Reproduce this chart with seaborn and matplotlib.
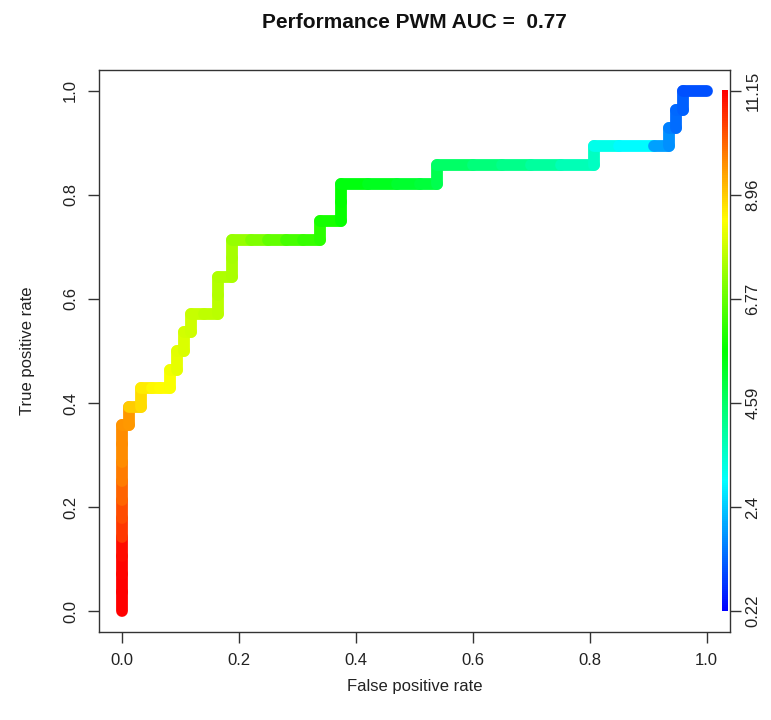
import numpy as np
import matplotlib
matplotlib.use("Agg")
import matplotlib.pyplot as plt
import seaborn as sns
from matplotlib.collections import LineCollection
from matplotlib.colors import ListedColormap, Normalize, hsv_to_rgb

# ROC points (fpr, tpr, cutoff)
fpr = [0.0, 0.0, 0.0, 0.0, 0.0, 0.0, 0.0, 0.0, 0.0, 0.0, 0.0,
       0.012, 0.012, 0.032, 0.032, 0.05, 0.065, 0.082, 0.082, 0.093, 0.093,
       0.105, 0.105, 0.117, 0.117, 0.14, 0.163, 0.163, 0.163, 0.187, 0.187,
       0.187, 0.22, 0.25, 0.28, 0.31, 0.338, 0.338, 0.374, 0.374, 0.374,
       0.42, 0.47, 0.51, 0.538, 0.538, 0.6, 0.65, 0.7, 0.75, 0.808,
       0.808, 0.85, 0.91, 0.935, 0.935, 0.948, 0.948, 0.96, 0.96, 1.0]
tpr = [0.0, 0.036, 0.071, 0.107, 0.143, 0.179, 0.214, 0.25, 0.286, 0.321, 0.357,
       0.357, 0.393, 0.393, 0.429, 0.429, 0.429, 0.429, 0.464, 0.464, 0.5,
       0.5, 0.536, 0.536, 0.571, 0.571, 0.571, 0.607, 0.643, 0.643, 0.679,
       0.714, 0.714, 0.714, 0.714, 0.714, 0.714, 0.75, 0.75, 0.786, 0.821,
       0.821, 0.821, 0.821, 0.821, 0.857, 0.857, 0.857, 0.857, 0.857, 0.857,
       0.893, 0.893, 0.893, 0.893, 0.929, 0.929, 0.964, 0.964, 1.0, 1.0]
cutoff = [11.15, 11.15, 11.12, 11.08, 11.02, 10.55, 10.30, 10.05, 9.80, 9.65, 9.62,
          9.55, 9.50, 8.95, 8.80, 8.62, 8.50, 8.42, 8.35, 8.25, 8.14,
          8.08, 8.01, 7.94, 7.87, 7.80, 7.73, 7.68, 7.60, 7.53, 7.50,
          7.46, 7.30, 7.05, 6.75, 6.45, 6.25, 6.15, 5.90, 5.75, 5.685,
          5.55, 5.35, 5.20, 5.05, 4.85, 4.60, 4.40, 4.20, 4.00, 3.75,
          3.60, 3.20, 2.95, 1.95, 1.77, 1.60, 1.40, 1.35, 1.27, 1.09]

cbar_labels = ["0.22", "2.4", "4.59", "6.77", "8.96", "11.15"]
auc_value = 0.77
cut_min, cut_max = 0.22, 11.15

sns.set_theme(style="white")
plt.rcParams["font.family"] = ["Liberation Sans", "DejaVu Sans"]

# R's rainbow(start=0, end=4/6): low cutoff blue, high cutoff red
hues = np.linspace(4 / 6, 0, 256)
rainbow = ListedColormap(hsv_to_rgb(np.column_stack([hues, np.ones(256), np.ones(256)])))
norm = Normalize(cut_min, cut_max)

fig = plt.figure(figsize=(7.71, 7.2), dpi=100)
ax = fig.add_axes([0.1284, 0.1222, 0.9468 - 0.1284, 0.9028 - 0.1222])

pts = np.column_stack([fpr, tpr])
segs = np.stack([pts[:-1], pts[1:]], axis=1)
lc = LineCollection(segs, colors=rainbow(norm(np.array(cutoff[1:]))),
                    linewidths=8.5, capstyle="round", joinstyle="round")
ax.add_collection(lc)

# colour bar drawn inside the plot region, on the right edge
grad = np.linspace(0, 1, 256)[::-1].reshape(-1, 1)
ax.imshow(grad, cmap=rainbow, aspect="auto", extent=[1.026, 1.035, 0, 1],
          interpolation="nearest", zorder=3)

ax.set_xlim(-0.04, 1.04)
ax.set_ylim(-0.04, 1.04)
ticks = [0.0, 0.2, 0.4, 0.6, 0.8, 1.0]
ax.set_xticks(ticks, [f"{t:.1f}" for t in ticks])
ax.set_yticks(ticks, [f"{t:.1f}" for t in ticks])
for s in ax.spines.values():
    s.set_color("#333333")
    s.set_linewidth(1.0)
ax.tick_params(axis="both", which="both", direction="out", length=8, width=1,
               color="#333333", labelsize=12, labelcolor="#222222", pad=7,
               bottom=True, left=True)
plt.setp(ax.get_yticklabels(), rotation=90, va="center")

ax2 = ax.twinx()
ax2.set_ylim(-0.04, 1.04)
ax2.set_yticks(ticks, cbar_labels)
ax2.tick_params(axis="y", direction="out", length=8, width=1, color="#333333",
                labelsize=12, labelcolor="#222222", pad=3, right=True)
plt.setp(ax2.get_yticklabels(), rotation=90, va="center")
for s in ax2.spines.values():
    s.set_visible(False)

ax.set_xlabel("False positive rate", fontsize=12, color="#222222", labelpad=8)
ax.set_ylabel("True positive rate", fontsize=12, color="#222222", labelpad=20)
ax.set_title(f"Performance PWM AUC =  {auc_value}", fontsize=15, fontweight="bold",
             color="#111111", pad=30)

fig.savefig("out.png", dpi=100, facecolor="white")
